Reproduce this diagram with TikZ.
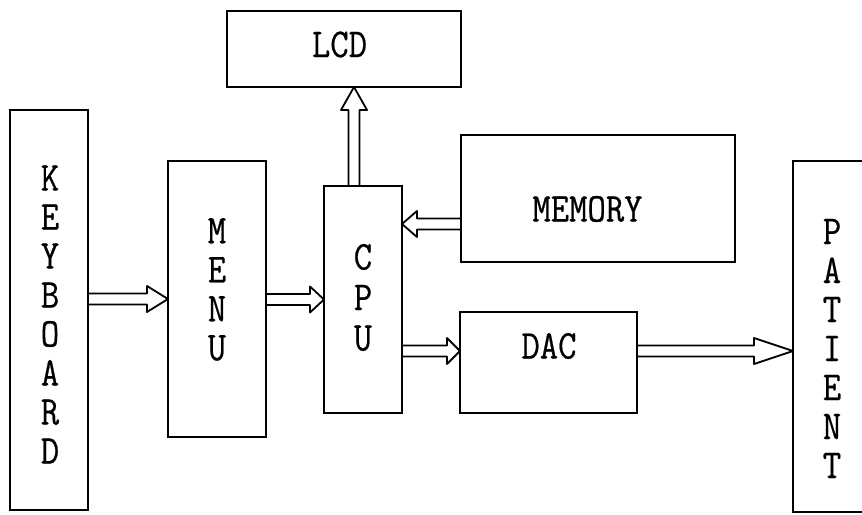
\documentclass[tikz,border=0pt]{standalone}
\usepackage{fontspec}
\newfontfamily\diagfont[FakeStretch=0.87,FakeBold=0.5]{Latin Modern Mono}
\usetikzlibrary{calc}
\tikzset{
  blk/.style={draw=black, line width=1.8pt, inner sep=0pt, outer sep=0pt},
  lbl/.style={inner sep=0pt, font=\diagfont\fontsize{41}{39}\selectfont},
  vlbl/.style={inner sep=0pt, align=center, font=\diagfont\fontsize{41}{39}\selectfont},
  fat/.style={draw=black, line width=1.8pt, line join=round, to path={
    ($(\tikztotarget)!#1!(\tikztostart)$) coordinate (fa@h)
    ($(\tikztostart)!5.5pt!90:(\tikztotarget)$) -- ($(fa@h)!5.5pt!-90:(\tikztostart)$)
      -- ($(fa@h)!13pt!-90:(\tikztostart)$) -- (\tikztotarget)
      -- ($(fa@h)!13pt!90:(\tikztostart)$) -- ($(fa@h)!5.5pt!90:(\tikztostart)$)
      -- ($(\tikztostart)!5.5pt!-90:(\tikztotarget)$)
  }},
}
\begin{document}
\begin{tikzpicture}[x=1pt,y=-1pt]
\useasboundingbox[fill=white] (0,0) rectangle (862,514);
% boxes
\node[blk, minimum width=78pt, minimum height=400pt] (kbd) at (49,310) {};
\node[blk, minimum width=98pt, minimum height=276pt] (menu) at (217,299) {};
\node[blk, minimum width=78pt, minimum height=227pt] (cpu) at (363,299.5) {};
\node[blk, minimum width=234pt, minimum height=76pt] (lcd) at (344,49) {};
\node[blk, minimum width=274pt, minimum height=127pt] (mem) at (598,198.5) {};
\node[blk, minimum width=177pt, minimum height=101pt] (dac) at (548.5,362.5) {};
\node[blk, minimum width=92pt, minimum height=351pt] (pat) at (839,336.5) {};
% labels
\node[vlbl] (kbdT) at (50,314.5) {K\\E\\Y\\B\\O\\A\\R\\D};
\node[vlbl] (menuT) at (217,289.5) {M\\E\\N\\U};
\node[vlbl, font=\diagfont\fontsize{41}{40.5}\selectfont] (cpuT) at (363,297.5) {C\\P\\U};
\node[vlbl] (patT) at (832,348.5) {P\\A\\T\\I\\E\\N\\T};
\node[lbl] (lcdT) at (339.5,44.5) {LCD};
\node[lbl] (memT) at (587.5,209) {MEMORY};
\node[lbl] (dacT) at (549,346) {DAC};
% arrow end points
\coordinate (a1) at (kbd.east |- menu.west);
\coordinate (a2) at (menu.east |- cpu.west);
\coordinate (a3) at (mem.west |- 0,224);
\coordinate (a3e) at (cpu.east |- a3);
\coordinate (a4) at (cpu.north -| 354,0);
\coordinate (a4e) at (lcd.south -| a4);
\coordinate (a5) at (cpu.east |- 0,351);
\coordinate (a5e) at (dac.west |- a5);
\coordinate (a6) at (dac.east |- a5);
\coordinate (a6e) at (pat.west |- a5);
% arrows
\draw[fat=21pt] (a1) to (menu.west);
\draw[fat=14pt] (a2) to (cpu.west);
\draw[fat=15pt] (a3) to (a3e);
\draw[fat=23pt] (a4) to (a4e);
\draw[fat=13pt] (a5) to (a5e);
\draw[fat=39pt] (a6) to (a6e);
\end{tikzpicture}
\end{document}
